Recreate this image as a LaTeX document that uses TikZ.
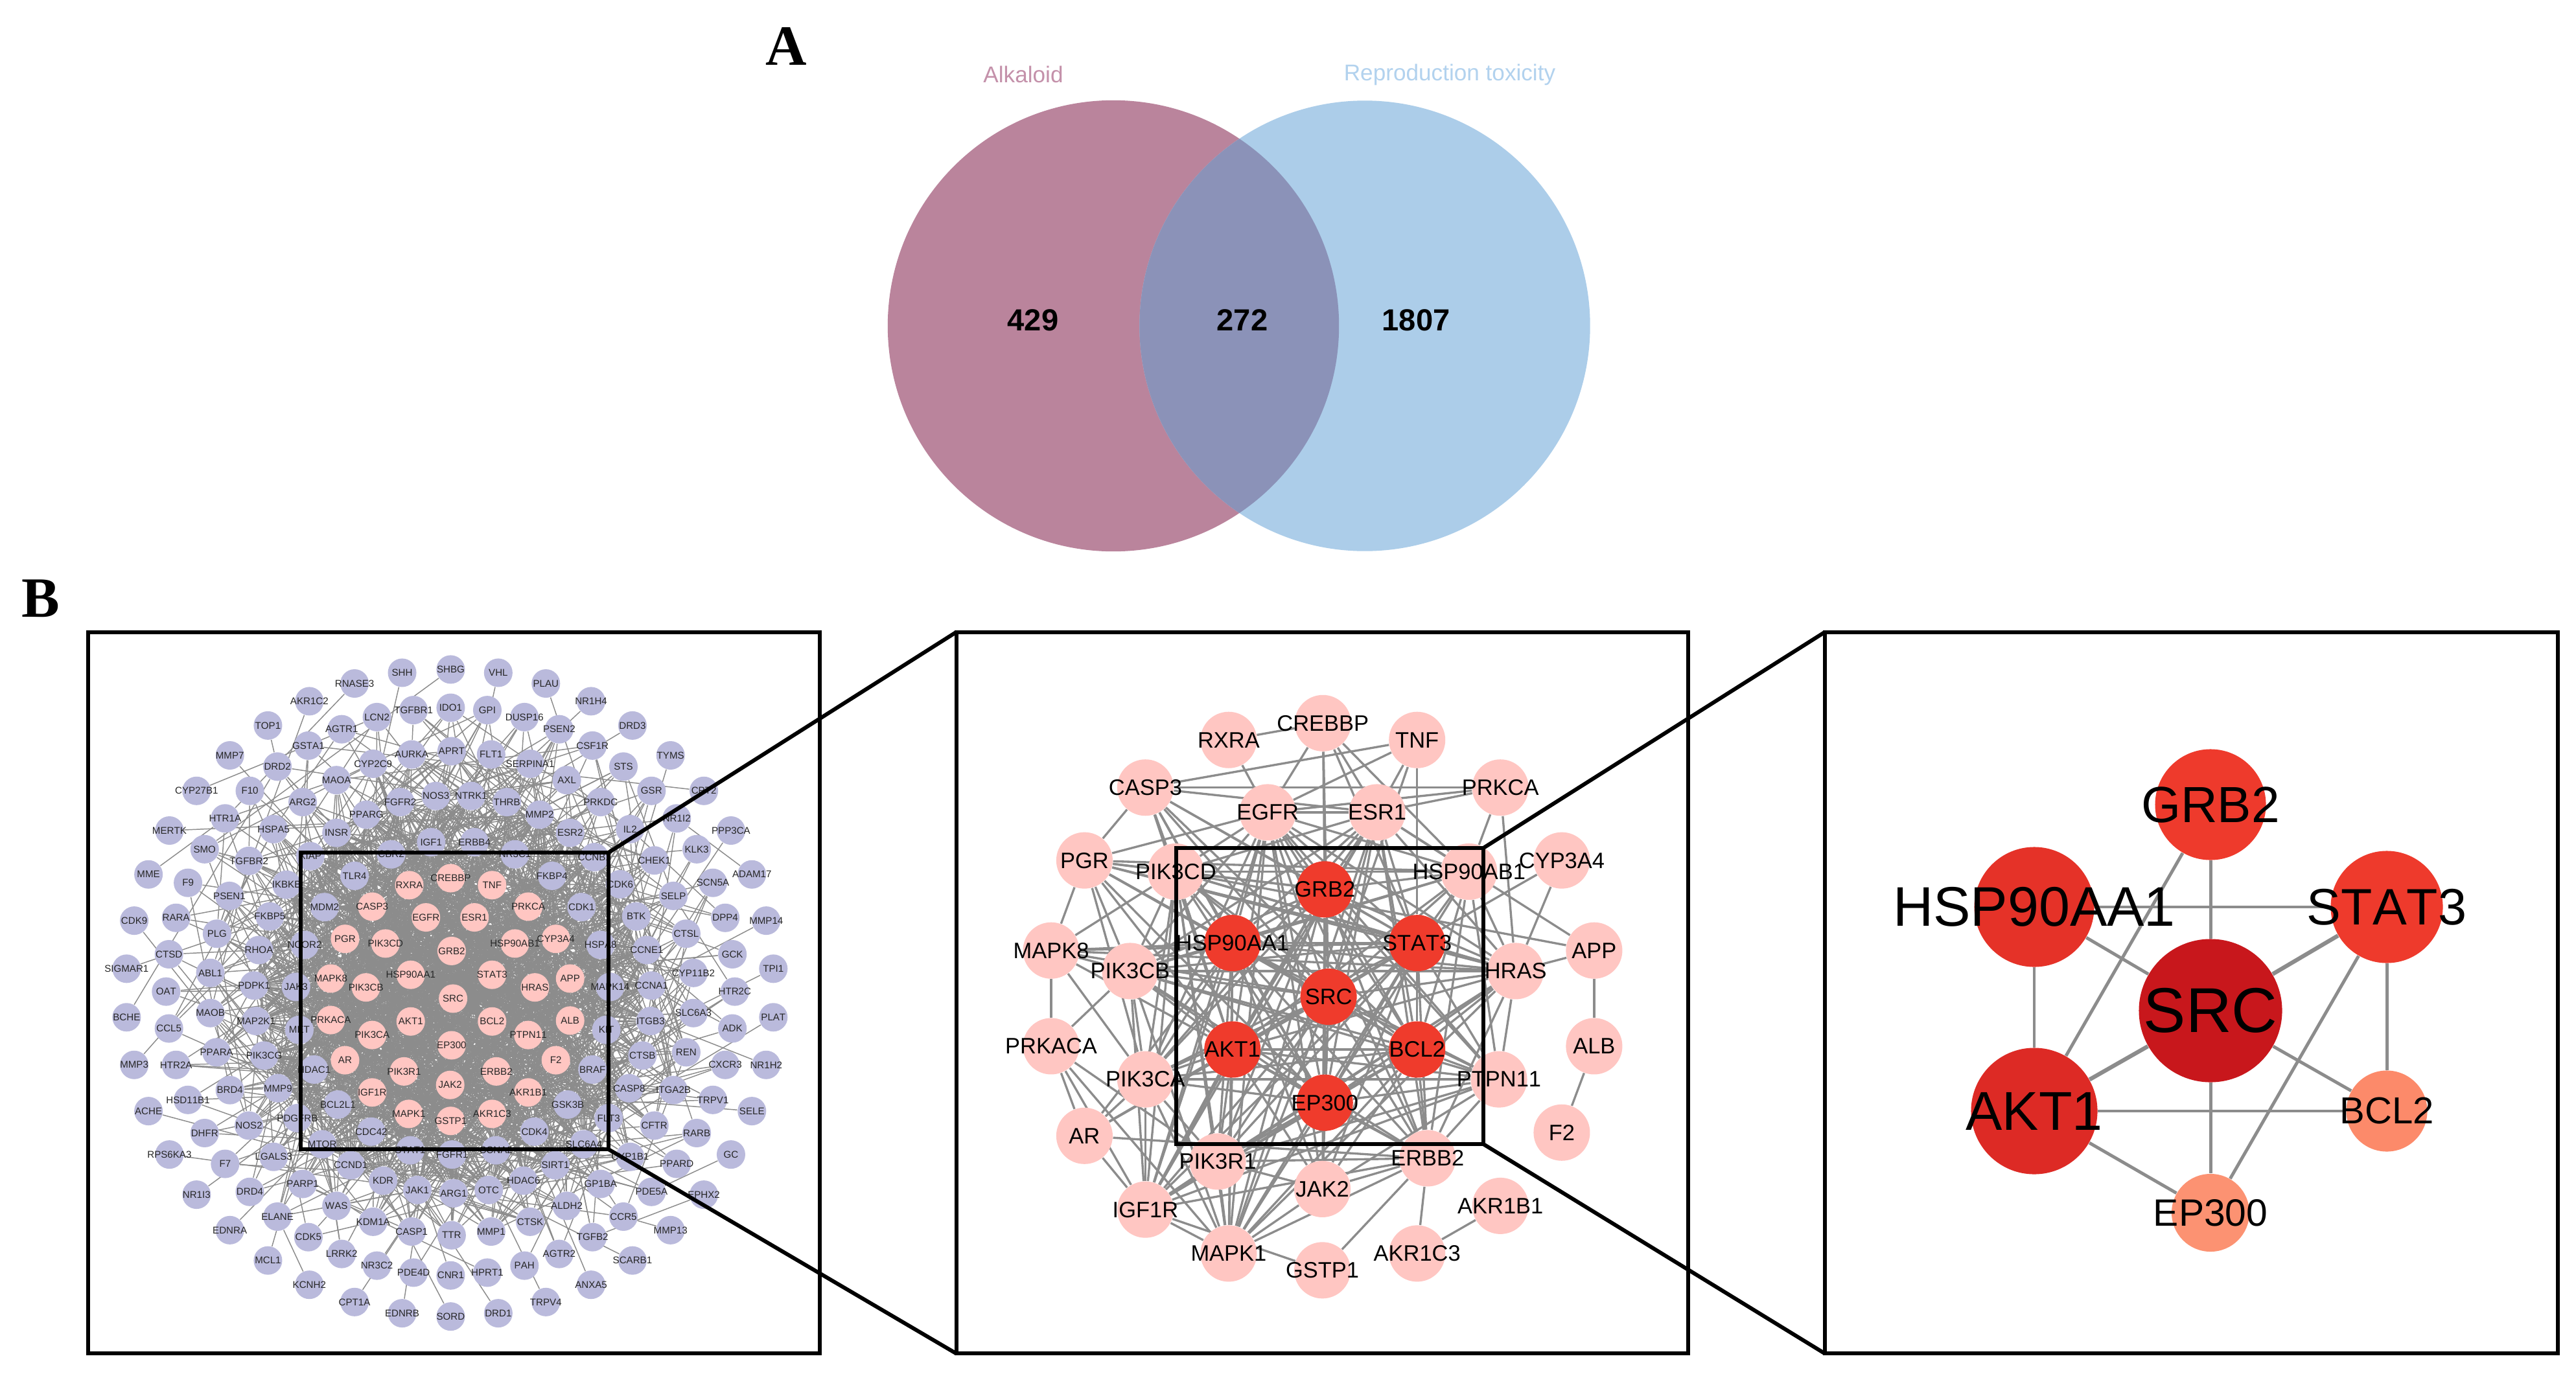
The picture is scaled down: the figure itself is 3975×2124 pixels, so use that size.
\documentclass[tikz,border=0pt]{standalone}
\usepackage{fontspec}
\setmainfont[Kerning=Off]{Liberation Sans}
\newfontfamily\tnr{Liberation Serif}
\usetikzlibrary{backgrounds}
\definecolor{vleft}{RGB}{186,132,156}
\definecolor{vright}{RGB}{172,205,233}
\definecolor{voverlap}{RGB}{139,146,184}
\definecolor{vleftt}{RGB}{196,145,170}
\definecolor{vrightt}{RGB}{178,210,238}
\definecolor{nodepink}{RGB}{255,198,194}
\definecolor{nodepurple}{RGB}{186,186,220}
\definecolor{edgegray}{RGB}{140,140,140}
\definecolor{hubred}{RGB}{239,59,44}
\tikzset{
  framebox/.style={draw=black,line width=0.06cm,inner sep=0pt,outer sep=0pt,fill=none},
  zoomline/.style={draw=black,line width=0.06cm},
  pa/.style={circle,fill=nodepurple,inner sep=0pt,minimum size=0.44cm},
  pp/.style={circle,fill=nodepink,inner sep=0pt,minimum size=0.44cm},
  pat/.style={inner sep=0pt,text=black!85,font=\fontsize{4.3}{5}\selectfont},
  qa/.style={circle,fill=nodepink,inner sep=0pt,minimum size=0.87cm},
  qh/.style={circle,fill=hubred,inner sep=0pt,minimum size=0.87cm},
  qat/.style={inner sep=0pt,text=black,font=\fontsize{9.8}{12}\selectfont},
  ea/.style={draw=edgegray,line width=0.42pt},
  eb/.style={draw=edgegray,line width=0.95pt},
  ec/.style={draw=edgegray,line width=1.4pt},
  ecc/.style={draw=edgegray,line width=1.8pt},
  rn/.style={circle,inner sep=0pt,minimum size=#1},
  rt/.style={inner sep=0pt,text=black,font=\fontsize{#1}{#1}\selectfont},
}
% pink (1-36)
\def\listP{CREBBP/770/535,RXRA/683/550,TNF/857/550,CASP3/605/596,PRKCA/933/596,EGFR/718/619,ESR1/820/619,PGR/548/665,PIK3CD/633/675,GRB2/772/691,HSP90AB1/905/675,CYP3A4/991/665,HSP90AA1/686/742,STAT3/857/742,MAPK8/518/750,PIK3CB/592/769,HRAS/947/769,APP/1021/750,SRC/775/793,AKT1/686/842,BCL2/857/842,PRKACA/518/839,ALB/1021/840,PIK3CA/605/871,PTPN11/933/871,EP300/772/893,AR/548/925,F2/991/925,PIK3R1/672/949,ERBB2/866/949,JAK2/769/978,IGF1R/605/994,AKR1B1/933/994,MAPK1/682/1040,AKR1C3/857/1040,GSTP1/770/1055}
% purple: inner, ring 4, ring 3, ring 2, outer
\def\listQ{TLR4/568/530,FKBP4/983/530,MDM2/505/597,CDK1/1045/597,NCOR2/463/678,HSPA8/1085/678,JAK3/445/768,MAPK14/1105/768,MET/452/860,KIT/1097/860,HDAC1/483/945,BRAF/1068/945,BCL2L1/533/1020,GSK3B/1016/1020,CDC42/603/1078,CDK4/946/1078,NOS3/739/359,NTRK1/813/359,FGFR2/664/372,THRB/888/372,PPARG/593/399,MMP2/957/399,INSR/530/438,ESR2/1021/438,IGF1/729/458,ERBB4/820/458,XIAP/475/488,CCNB1/1072/490,CBR2/645/484,NR3C1/905/484,IKBKB/425/549,CDK6/1126/548,FKBP5/390/617,BTK/1160/617,RHOA/367/689,CCNE1/1182/689,PDPK1/357/765,CCNA1/1192/765,MAP2K1/361/841,ITGB3/1190/841,PIK3CG/378/915,CTSB/1173/915,MMP9/407/985,CASP8/1145/985,PDGFRB/448/1049,FLT3/1102/1049,MTOR/500/1105,SLC6A4/1050/1105,STAT1/685/1118,FGFR1/773/1127,CCNA2/865/1118,CCND1/560/1150,SIRT1/990/1150,KDR/628/1183,HDAC6/923/1183,JAK1/700/1203,OTC/850/1203,ARG1/776/1210,APRT/772/263,AURKA/688/270,FLT1/855/270,CYP2C9/607/290,SERPINA1/937/290,MAOA/530/325,AXL/1014/325,ARG2/459/372,PRKDC/1085/372,HSPA5/398/430,IL2/1147/430,TGFBR2/346/498,CHEK1/1198/497,PSEN1/305/573,SELP/1238/573,PLG/279/654,CTSL/1265/654,ABL1/265/738,CYP11B2/1280/738,MAOB/265/824,SLC6A3/1280/824,PPARA/278/908,REN/1265/908,BRD4/306/989,ITGA2B/1238/989,NOS2/346/1065,CFTR/1198/1065,LGALS3/398/1132,CYP1B1/1147/1132,PARP1/459/1190,GP1BA/1085/1190,WAS/530/1237,ALDH2/1014/1237,KDM1A/607/1271,CTSK/937/1271,CASP1/688/1292,MMP1/855/1292,TTR/772/1300,LCN2/615/190,IDO1/770/170,TGFBR1/692/175,GPI/847/175,DUSP16/925/190,AGTR1/541/216,PSEN2/998/216,GSTA1/471/251,CSF1R/1068/251,DRD2/406/296,STS/1133/296,F10/348/348,GSR/1192/348,HTR1A/296/407,NR1I2/1245/407,SMO/253/473,KLK3/1287/473,F9/218/545,SCN5A/1321/545,RARA/193/620,DPP4/1347/620,CTSD/178/698,GCK/1362/698,OAT/172/778,HTR2C/1367/778,CCL5/178/857,ADK/1362/857,HTR2A/193/935,CXCR3/1347/935,HSD11B1/218/1010,TRPV1/1321/1010,DHFR/253/1081,RARB/1287/1081,F7/296/1147,PPARD/1245/1147,DRD4/348/1207,PDE5A/1192/1207,ELANE/406/1260,CCR5/1133/1260,CDK5/471/1304,TGFB2/1068/1304,LRRK2/541/1340,AGTR2/998/1340,NR3C2/615/1365,PAH/925/1365,PDE4D/692/1380,HPRT1/847/1380,CNR1/770/1386,SHH/668/95,SHBG/770/88,VHL/870/95,PLAU/970/118,RNASE3/568/118,AKR1C2/473/156,NR1H4/1065/156,TOP1/386/208,DRD3/1152/208,MMP7/306/272,TYMS/1232/272,CYP27B1/236/348,CPT2/1302/348,MERTK/179/433,PPP3CA/1359/433,MME/135/527,ADAM17/1403/527,CDK9/105/626,MMP14/1433/626,SIGMAR1/89/729,TPI1/1448/729,BCHE/89/833,PLAT/1448/833,MMP3/105/935,NR1H2/1433/935,ACHE/135/1034,SELE/1403/1034,RPS6KA3/179/1127,GC/1359/1127,NR1I3/236/1213,EPHX2/1302/1213,EDNRA/306/1289,MMP13/1232/1289,MCL1/386/1354,SCARB1/1152/1354,KCNH2/473/1406,ANXA5/1065/1406,CPT1A/568/1443,TRPV4/970/1443,EDNRB/668/1467,DRD1/870/1467,SORD/770/1474}
% panel two
\def\listR{CREBBP/778/203,RXRA/580/239,TNF/976/239,CASP3/405/341,PRKCA/1151/341,EGFR/662/394,ESR1/892/394,PGR/277/497,PIK3CD/469/521,CYP3A4/1280/497,HSP90AB1/1085/521,MAPK8/207/690,APP/1348/690,PIK3CB/373/734,HRAS/1183/734,PRKACA/207/895,ALB/1348/895,PIK3CA/405/966,PTPN11/1148/966,AR/277/1087,F2/1280/1080,PIK3R1/557/1142,ERBB2/998/1135,JAK2/777/1201,IGF1R/405/1245,AKR1B1/1151/1237,MAPK1/580/1339,AKR1C3/976/1339,GSTP1/777/1375}
\def\listH{GRB2/782/559,HSP90AA1/588/674,STAT3/976/674,SRC/790/789,AKT1/588/902,BCL2/976/902,EP300/782/1016}
\pgfdeclarelayer{edgelayer}
\pgfsetlayers{edgelayer,main}
\newcommand\randedges[5]{%
 \foreach \i in {#1,...,#2}{\foreach \k in {1,...,#3}{%
   \pgfmathrandominteger{\q}{#4}{#5}%
   \ifnum\q=\i\else\draw[ea] (a\i) -- (a\q);\fi}}}
\begin{document}
\begin{tikzpicture}[x=0.01cm,y=-0.01cm]
\useasboundingbox (0,0) rectangle (3975,2124);
\begin{pgfonlayer}{edgelayer}
\fill[white] (0,0) rectangle (3975,2124);
\end{pgfonlayer}
\pgfmathsetseed{272}
% ---------- Venn ----------
\node[circle,fill=vleft,inner sep=0pt,minimum size=6.96cm] (vl) at (1718,503) {};
\node[circle,fill=vright,inner sep=0pt,minimum size=6.95cm] (vr) at (2106,503) {};
\begin{scope}
\clip (vl.center) circle (3.48cm);
\fill[voverlap] (vr.center) circle (3.475cm);
\end{scope}
\node[inner sep=0pt,text=vleftt,font=\fontsize{10}{12}\selectfont] (valk) at (1579,115) {Alkaloid};
\node[inner sep=0pt,text=vrightt,font=\fontsize{10}{12}\selectfont] (vrep) at (2237,115) {Reproduction toxicity};
\node[inner sep=0pt,font=\fontsize{13.4}{15}\selectfont\bfseries] (v429) at (1594,494) {429};
\node[inner sep=0pt,font=\fontsize{13.4}{15}\selectfont\bfseries] (v272) at (1917,494) {272};
\node[inner sep=0pt,font=\fontsize{13.4}{15}\selectfont\bfseries] (v1807) at (2185,494) {1807};
\node[inner sep=0pt,font=\fontsize{25}{28}\selectfont\tnr\bfseries] (la) at (1213,71) {A};
\node[inner sep=0pt,font=\fontsize{25}{28}\selectfont\tnr\bfseries] (lb) at (63,924) {B};
% ---------- Panel 1 ----------
\begin{scope}[shift={(130,970)},x=0.007334cm,y=-0.007207cm]
\foreach \n/\X/\Y [count=\i] in \listP {\node[pp,alias=a\i] (p\n) at (\X,\Y) {};}
\foreach \n/\X/\Y [count=\i from 37] in \listQ {\node[pa,alias=a\i] (p\n) at (\X,\Y) {};}
\foreach \n/\X/\Y in \listP {\node[pat] (pt\n) at (\X,\Y) {\n};}
\foreach \n/\X/\Y in \listQ {\node[pat] (pt\n) at (\X,\Y) {\n};}
\end{scope}
\begin{pgfonlayer}{edgelayer}
\randedges{1}{36}{32}{1}{94}
\randedges{37}{52}{16}{1}{100}
\randedges{53}{94}{9}{1}{132}
\randedges{95}{132}{5}{1}{150}
\randedges{133}{175}{3}{10}{132}
\randedges{176}{222}{1}{53}{175}
\end{pgfonlayer}
\node[framebox,minimum width=11.29cm,minimum height=11.13cm] (f1) at (700.5,1532.5) {};
\node[framebox,minimum width=4.75cm,minimum height=4.58cm] (b1) at (701.5,1545) {};
% ---------- Panel 2 ----------
\begin{scope}[shift={(1470,970)},x=0.007334cm,y=-0.007207cm]
\foreach \n/\X/\Y in \listR {\node[qa] (q\n) at (\X,\Y) {};}
\foreach \n/\X/\Y in \listH {\node[qh] (q\n) at (\X,\Y) {};}
\foreach \n/\X/\Y in \listR {\node[qat] (qt\n) at (\X,\Y) {\n};}
\foreach \n/\X/\Y in \listH {\node[qat] (qt\n) at (\X,\Y) {\n};}
\end{scope}
\begin{pgfonlayer}{edgelayer}
\foreach \a in {GRB2,HSP90AA1,STAT3,SRC,AKT1,BCL2,EP300}{
 \foreach \b in {CASP3,EGFR,ESR1,PGR,PIK3CD,HSP90AB1,PIK3CB,HRAS,PIK3CA,PTPN11,PIK3R1,ERBB2,JAK2,IGF1R,MAPK1}{
  \draw[eb] (q\a) -- (q\b);}}
\foreach \a/\b in {GRB2/HSP90AA1,GRB2/STAT3,GRB2/SRC,GRB2/AKT1,GRB2/BCL2,GRB2/EP300,HSP90AA1/STAT3,HSP90AA1/SRC,HSP90AA1/AKT1,HSP90AA1/BCL2,HSP90AA1/EP300,STAT3/SRC,STAT3/AKT1,STAT3/BCL2,STAT3/EP300,SRC/AKT1,SRC/BCL2,SRC/EP300,AKT1/BCL2,AKT1/EP300,BCL2/EP300,
 RXRA/CREBBP,RXRA/EGFR,CREBBP/EGFR,CREBBP/ESR1,CREBBP/GRB2,CREBBP/HSP90AB1,CREBBP/SRC,CREBBP/STAT3,TNF/CASP3,TNF/ESR1,TNF/EGFR,TNF/STAT3,TNF/SRC,CASP3/PRKCA,CASP3/ESR1,CASP3/PGR,CASP3/PIK3CD,PRKCA/EGFR,PRKCA/ESR1,PRKCA/HSP90AB1,PRKCA/HRAS,EGFR/ESR1,EGFR/PGR,EGFR/PIK3CD,EGFR/HSP90AB1,EGFR/PIK3CB,EGFR/PIK3CA,EGFR/HRAS,EGFR/PTPN11,EGFR/ERBB2,EGFR/JAK2,EGFR/IGF1R,EGFR/MAPK1,ESR1/PIK3CD,ESR1/HSP90AB1,ESR1/PIK3CB,ESR1/PIK3CA,ESR1/HRAS,ESR1/ERBB2,ESR1/IGF1R,ESR1/MAPK1,ESR1/APP,PGR/MAPK8,PGR/PIK3CD,PGR/PIK3CB,PGR/PIK3CA,PGR/HSP90AB1,PGR/HRAS,MAPK8/PIK3CD,MAPK8/PRKACA,MAPK8/PIK3CB,MAPK8/PIK3CA,MAPK8/HRAS,MAPK8/HSP90AA1,MAPK8/STAT3,MAPK8/AKT1,MAPK8/SRC,PRKACA/PIK3CB,PRKACA/AR,PRKACA/IGF1R,PRKACA/MAPK1,PRKACA/PIK3R1,AR/PIK3CA,AR/IGF1R,AR/ERBB2,AR/HSP90AA1,AR/AKT1,AR/SRC,IGF1R/PIK3CA,IGF1R/PIK3CB,IGF1R/PIK3CD,IGF1R/ERBB2,IGF1R/PIK3R1,IGF1R/MAPK1,MAPK1/JAK2,MAPK1/PIK3R1,MAPK1/PIK3CA,MAPK1/PIK3CB,MAPK1/PIK3CD,MAPK1/ERBB2,MAPK1/HRAS,GSTP1/ERBB2,GSTP1/IGF1R,AKR1C3/ERBB2,AKR1C3/AKR1B1,APP/ALB,ALB/F2,APP/HRAS,APP/PIK3CD,CYP3A4/HRAS,CYP3A4/STAT3,PTPN11/HRAS,ERBB2/HRAS,ERBB2/PTPN11,JAK2/PTPN11,JAK2/ERBB2,PIK3R1/ERBB2,PIK3R1/JAK2,PIK3CB/HRAS,PIK3CA/PTPN11,PIK3CA/PIK3CB,PIK3CA/PIK3R1,PIK3CD/PIK3CB,PIK3CD/PIK3R1,PIK3CD/PIK3CA,PIK3CD/HRAS,PIK3CD/HSP90AB1,HSP90AB1/ERBB2,HSP90AB1/HRAS,HSP90AB1/PIK3CB,HSP90AB1/PTPN11,HRAS/PIK3R1,HRAS/IGF1R,PTPN11/PIK3R1,PTPN11/IGF1R,PIK3CB/PTPN11,PIK3CB/ERBB2}{
  \draw[eb] (q\a) -- (q\b);}
\end{pgfonlayer}
\node[framebox,minimum width=11.29cm,minimum height=11.13cm] (f2) at (2040.5,1532.5) {};
\node[framebox,minimum width=4.74cm,minimum height=4.57cm] (b2) at (2052,1537.5) {};
% ---------- Panel 3 ----------
\node[rn=1.71cm,fill={rgb,255:red,238;green,58;blue,44}] (rGRB2) at (3411,1242) {};
\node[rn=1.85cm,fill={rgb,255:red,229;green,50;blue,40}] (rHSP90AA1) at (3139,1400) {};
\node[rn=1.73cm,fill={rgb,255:red,238;green,58;blue,44}] (rSTAT3) at (3683,1400) {};
\node[rn=2.21cm,fill={rgb,255:red,200;green,23;blue,28}] (rSRC) at (3411,1560) {};
\node[rn=1.95cm,fill={rgb,255:red,221;green,42;blue,37}] (rAKT1) at (3139,1715) {};
\node[rn=1.25cm,fill={rgb,255:red,252;green,138;blue,106}] (rBCL2) at (3683,1715) {};
\node[rn=1.2cm,fill={rgb,255:red,252;green,146;blue,114}] (rEP300) at (3411,1872) {};
\begin{pgfonlayer}{edgelayer}
\foreach \a/\b in {GRB2/SRC,GRB2/AKT1,HSP90AA1/STAT3,HSP90AA1/SRC,HSP90AA1/AKT1,STAT3/BCL2,STAT3/EP300,SRC/BCL2,SRC/EP300,AKT1/BCL2,AKT1/EP300}{
  \draw[ec] (r\a) -- (r\b);}
\draw[ecc] (rSTAT3) -- (rSRC);
\draw[ecc] (rSRC) -- (rAKT1);
\end{pgfonlayer}
\node[rt=22.3] (rtGRB2) at (3411,1242) {GRB2};
\node[rt=24.5] (rtHSP90AA1) at (3139,1400) {HSP90AA1};
\node[rt=22.5] (rtSTAT3) at (3683,1400) {STAT3};
\node[rt=27.8] (rtSRC) at (3411,1560) {SRC};
\node[rt=24] (rtAKT1) at (3139,1715) {AKT1};
\node[rt=16.5] (rtBCL2) at (3683,1715) {BCL2};
\node[rt=16.7] (rtEP300) at (3411,1872) {EP300};
\node[framebox,minimum width=11.305cm,minimum height=11.13cm] (f3) at (3381.5,1532.5) {};
% ---------- Zoom connectors ----------
\draw[zoomline] (b1.north east) -- (f2.north west);
\draw[zoomline] (b1.south east) -- (f2.south west);
\draw[zoomline] (b2.north east) -- (f3.north west);
\draw[zoomline] (b2.south east) -- (f3.south west);
\end{tikzpicture}
\end{document}
